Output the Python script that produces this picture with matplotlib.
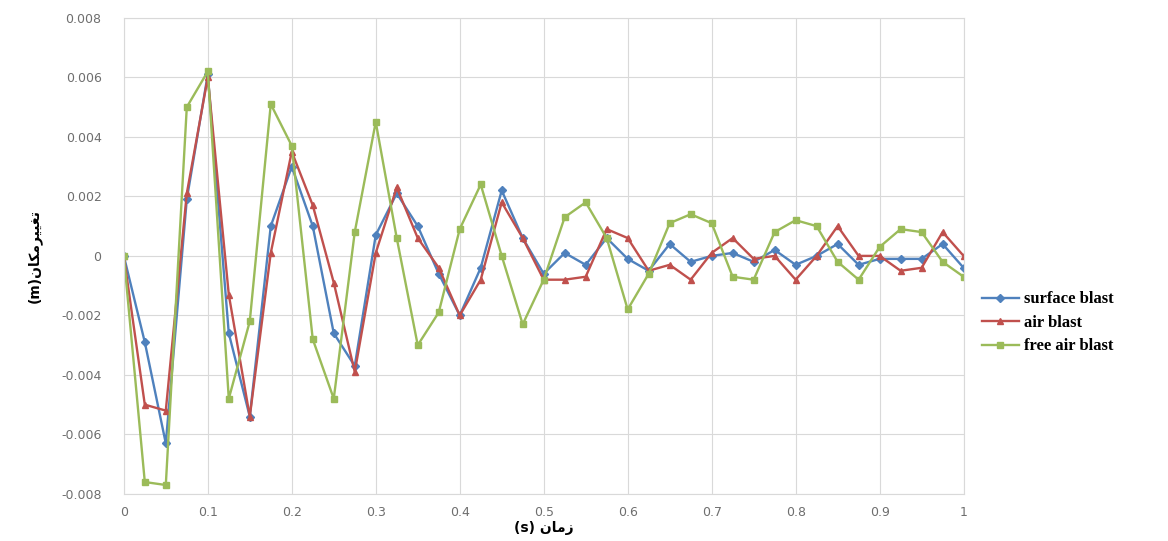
import numpy as np
import matplotlib
matplotlib.use('Agg')
import matplotlib.pyplot as plt

# time steps (s)
time = np.arange(41) * 0.025

surface_blast = [0, -0.0029, -0.0063, 0.0019, 0.0061, -0.0026, -0.0054, 0.0010, 0.0030, 0.0010,
                 -0.0026, -0.0037, 0.0007, 0.0021, 0.0010, -0.0006, -0.0020, -0.0004, 0.0022, 0.0006,
                 -0.0006, 0.0001, -0.0003, 0.0006, -0.0001, -0.0005, 0.0004, -0.0002, 0.0000, 0.0001,
                 -0.0002, 0.0002, -0.0003, 0.0000, 0.0004, -0.0003, -0.0001, -0.0001, -0.0001, 0.0004,
                 -0.0004]
air_blast = [0, -0.0050, -0.0052, 0.0021, 0.0060, -0.0013, -0.0054, 0.0001, 0.0035, 0.0017,
             -0.0009, -0.0039, 0.0001, 0.0023, 0.0006, -0.0004, -0.0020, -0.0008, 0.0018, 0.0006,
             -0.0008, -0.0008, -0.0007, 0.0009, 0.0006, -0.0005, -0.0003, -0.0008, 0.0001, 0.0006,
             -0.0001, 0.0000, -0.0008, 0.0000, 0.0010, 0.0000, 0.0000, -0.0005, -0.0004, 0.0008,
             0.0000]
free_air_blast = [0, -0.0076, -0.0077, 0.0050, 0.0062, -0.0048, -0.0022, 0.0051, 0.0037, -0.0028,
                  -0.0048, 0.0008, 0.0045, 0.0006, -0.0030, -0.0019, 0.0009, 0.0024, 0.0000, -0.0023,
                  -0.0008, 0.0013, 0.0018, 0.0006, -0.0018, -0.0006, 0.0011, 0.0014, 0.0011, -0.0007,
                  -0.0008, 0.0008, 0.0012, 0.0010, -0.0002, -0.0008, 0.0003, 0.0009, 0.0008, -0.0002,
                  -0.0007]

series_names = ['surface blast', 'air blast', 'free air blast']

# Persian labels written in visual order with presentation forms
# (matplotlib does no shaping / bidi)
ylabel = '(m)' + '\uFEE5\uFE8E\uFB91\uFEE3\uFEAE\uFBFF\uFBFF\uFED0\uFE97'   # تغییرمکان(m)
xlabel = '(s) ' + '\uFEE5\uFE8E\uFEE3\uFEAF'                                  # زمان (s)

fig = plt.figure(figsize=(11.68, 5.41), dpi=100)
ax = fig.add_axes([0.106, 0.087, 0.719, 0.880])

ax.plot(time, surface_blast, '-D', color='#4F81BD', lw=1.7, ms=4.5, label=series_names[0])
ax.plot(time, air_blast, '-^', color='#C0504D', lw=1.7, ms=5, label=series_names[1])
ax.plot(time, free_air_blast, '-s', color='#9BBB59', lw=1.7, ms=5, label=series_names[2])

ax.set_xlim(0, 1)
ax.set_ylim(-0.008, 0.008)
ax.set_xticks(np.arange(0, 1.01, 0.1))
ax.set_xticklabels(['0'] + ['%.1f' % v for v in np.arange(0.1, 0.95, 0.1)] + ['1'])
ax.set_yticks(np.arange(-0.008, 0.0081, 0.002))
ax.set_yticklabels(['%.3f' % v if abs(v) > 1e-9 else '0' for v in np.arange(-0.008, 0.0081, 0.002)])
ax.grid(True, color='#D9D9D9', lw=0.8)
ax.set_axisbelow(True)
for s in ax.spines.values():
    s.set_color('#D9D9D9')
ax.tick_params(length=0, labelsize=9, colors='#6E6E6E')
ax.tick_params(axis='y', pad=16)
ax.tick_params(axis='x', pad=9)

ax.set_xlabel(xlabel, fontsize=10, fontweight='bold', family='DejaVu Sans', labelpad=1)
ax.set_ylabel(ylabel, fontsize=10, fontweight='bold', family='DejaVu Sans', labelpad=14)

leg = fig.legend(loc='center left', bbox_to_anchor=(0.828, 0.403), frameon=False,
                 prop={'family': 'Liberation Serif', 'weight': 'bold', 'size': 12},
                 handlelength=2.2, labelspacing=0.45, handletextpad=0.3)

fig.savefig('out.png', dpi=100)
